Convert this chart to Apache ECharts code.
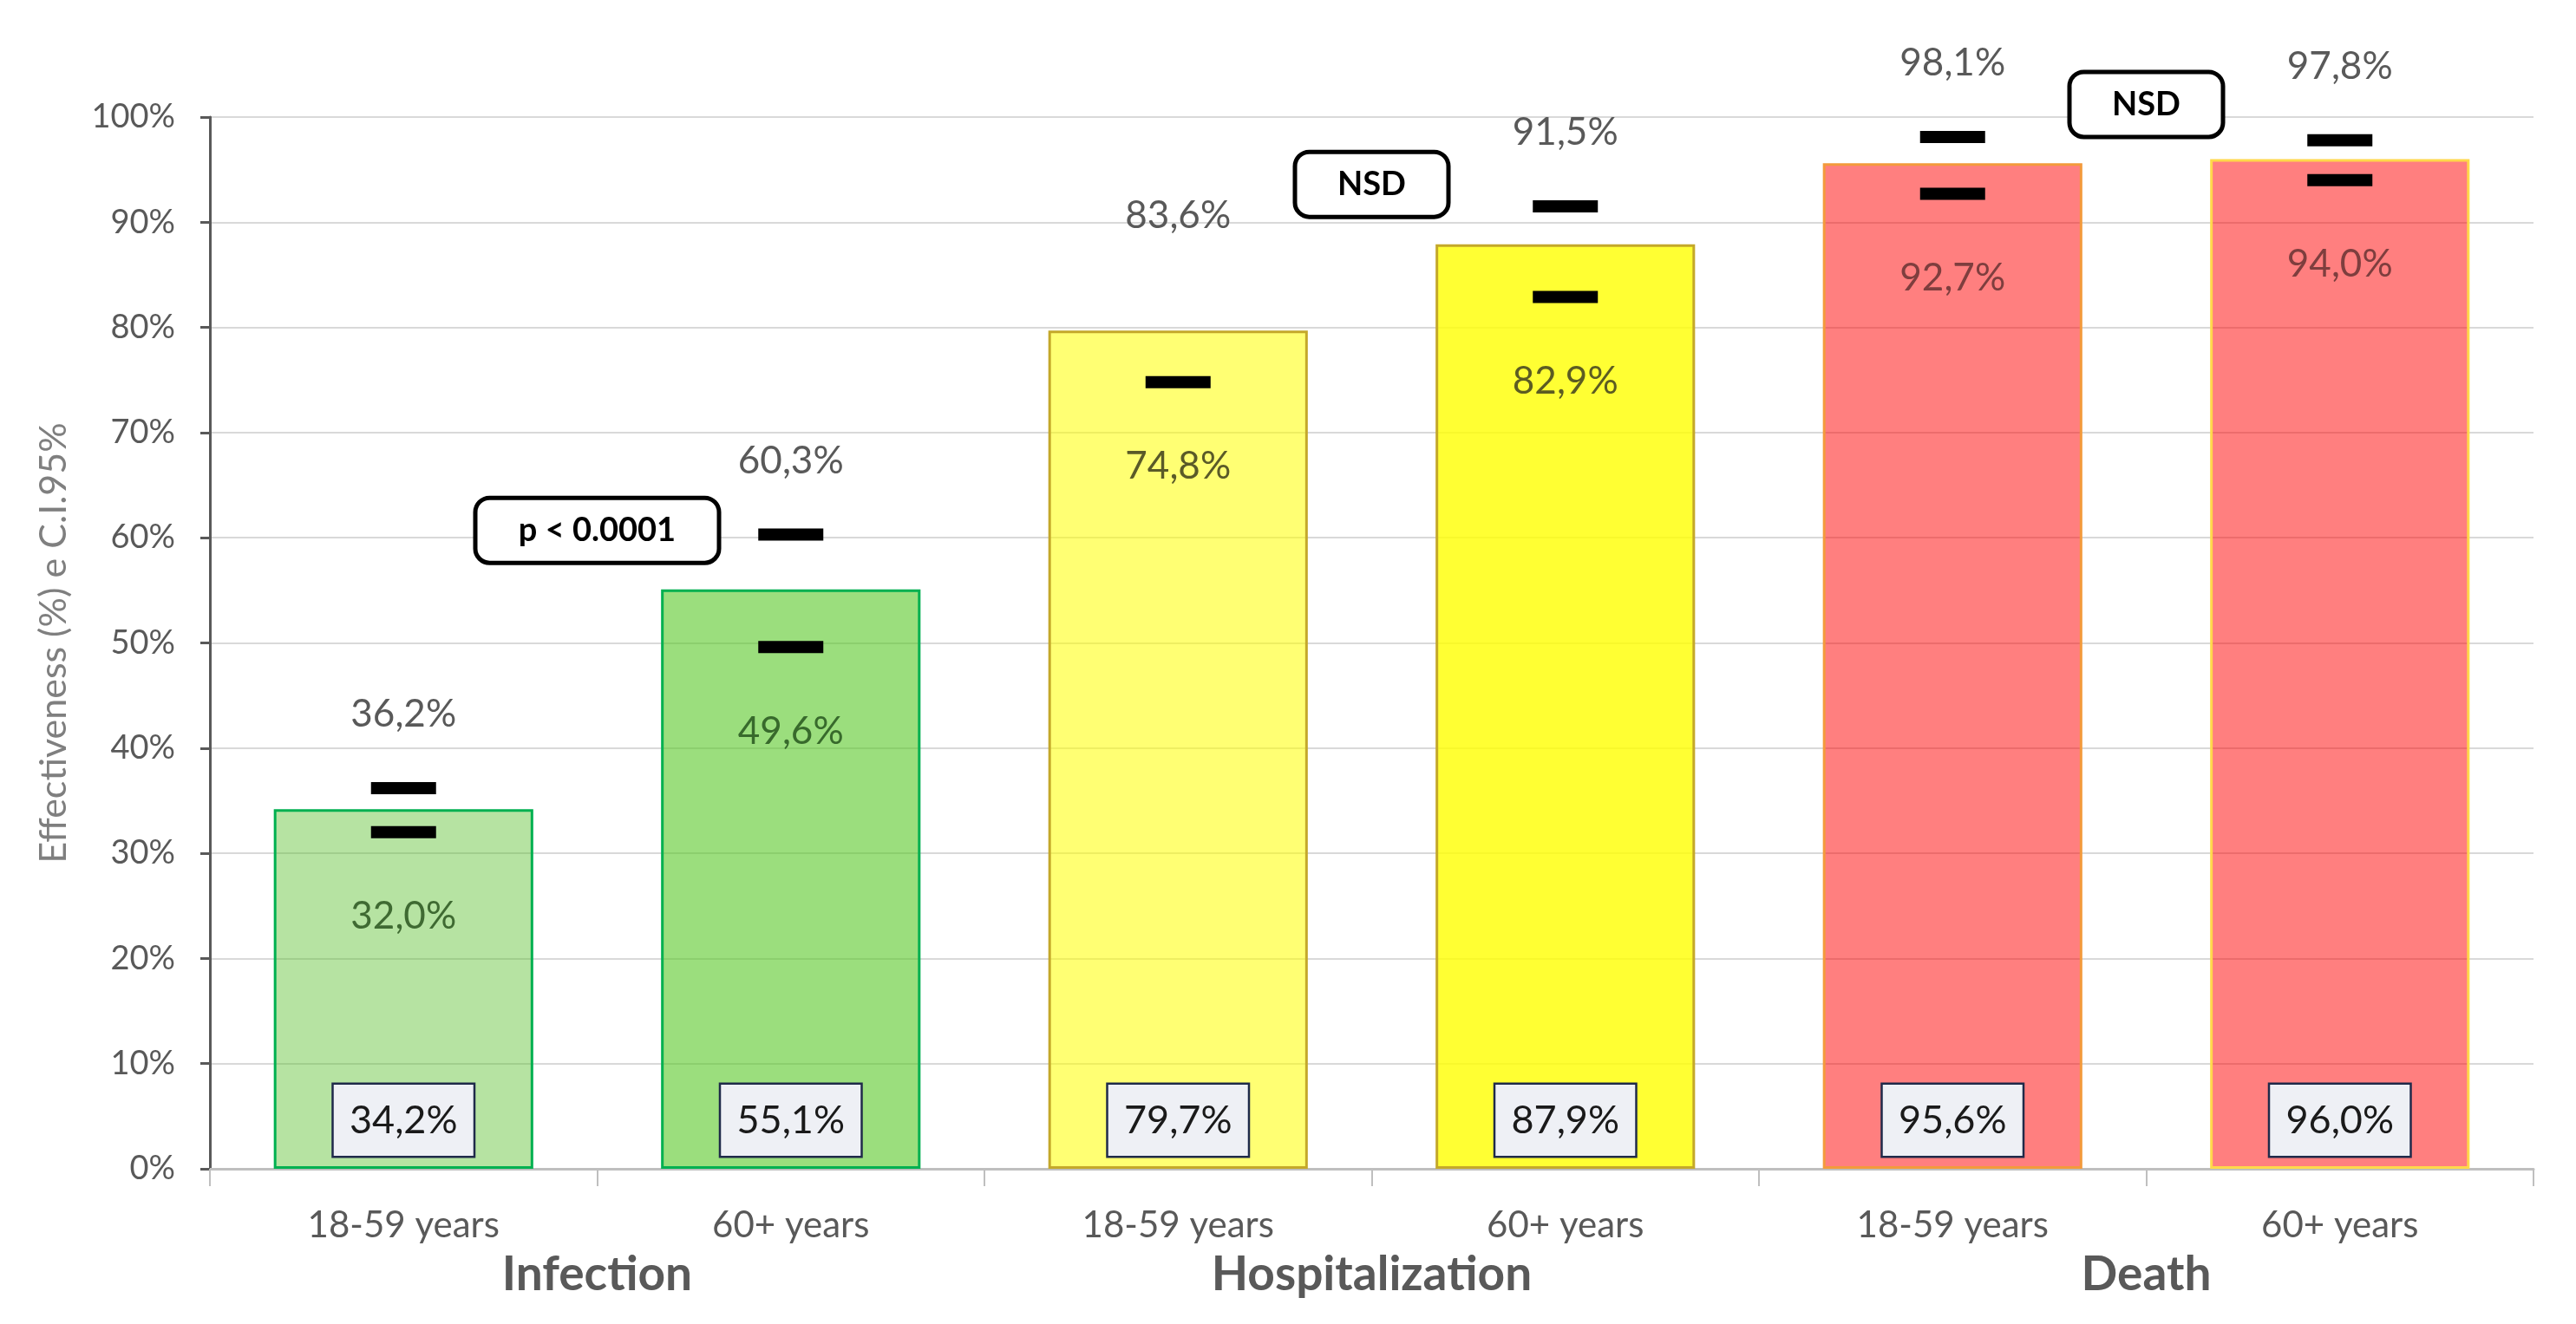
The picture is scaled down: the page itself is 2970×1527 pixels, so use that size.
<!DOCTYPE html>
<html>
<head>
<meta charset="utf-8">
<script src="https://cdn.jsdelivr.net/npm/echarts@6/dist/echarts.min.js"></script>
<style>
html,body{margin:0;padding:0;background:#fff;}
#chart{width:2970px;height:1527px;}
</style>
</head>
<body>
<div id="chart"></div>
<script>
// ---- data ----
const categories = ['18-59 years', '60+ years', '18-59 years', '60+ years', '18-59 years', '60+ years'];
const groups = ['Infection', 'Hospitalization', 'Death'];
const effectiveness = [34.2, 55.1, 79.7, 87.9, 95.6, 96.0];
const ciUpper = [36.2, 60.3, 83.6, 91.5, 98.1, 97.8];
const ciLower = [32.0, 49.6, 74.8, 82.9, 92.7, 94.0];
const annotationLabels = ['p < 0.0001', 'NSD', 'NSD'];
const annotationX = [1, 3, 5];          // category boundary (0..6 scale)
const annotationY = [60.7, 93.6, 101.2];

// ---- styles ----
const barFills = ['rgba(93,193,48,0.45)', 'rgba(88,200,38,0.6)', 'rgba(255,255,0,0.55)', 'rgba(255,255,0,0.8)', 'rgba(255,0,0,0.5)', 'rgba(255,0,0,0.5)'];
const barBorders = ['#00b050', '#00b050', '#c4a82a', '#c4a82a', '#f39a3c', '#ffd84a'];
const lowerLabelColors = ['#3f6a32', '#386a2c', '#5a5a28', '#5c5c22', '#7e3e3e', '#7e3e3e'];
const hiddenUpperMarker = [false, false, true, false, false, false];
const FONT = 'Lato';
const fmt = v => v.toFixed(1).replace('.', ',') + '%';

const chart = echarts.init(document.getElementById('chart'));
chart.setOption({
  backgroundColor: '#ffffff',
  animation: false,
  textStyle: { fontFamily: FONT },
  grid: { left: 242, right: 49, top: 135, bottom: 179, containLabel: false },
  xAxis: [
    {
      type: 'category', data: categories, position: 'bottom',
      axisLine: { lineStyle: { color: '#bfbfbf', width: 3 } },
      axisTick: { show: true, length: 20, lineStyle: { color: '#bfbfbf', width: 2 } },
      axisLabel: { color: '#595959', fontSize: 42, margin: 44, fontFamily: FONT },
      splitLine: { show: false }
    },
    {
      type: 'category', data: groups, position: 'bottom',
      axisLine: { show: false }, axisTick: { show: false },
      axisLabel: { color: '#595959', fontSize: 55, fontWeight: 'bold', margin: 95, fontFamily: FONT },
      splitLine: { show: false }
    },
    { type: 'value', min: 0, max: 6, show: false }
  ],
  yAxis: {
    type: 'value', min: 0, max: 100, interval: 10,
    name: 'Effectiveness (%) e C.I.95%', nameLocation: 'middle', nameGap: 158,
    nameTextStyle: { color: '#7f7f7f', fontSize: 43, fontFamily: FONT },
    axisLine: { show: true, lineStyle: { color: '#595959', width: 3 } },
    axisTick: { show: true, length: 11, lineStyle: { color: '#595959', width: 3 } },
    axisLabel: { formatter: '{value}%', color: '#595959', fontSize: 38, margin: 40, fontFamily: FONT },
    splitLine: { show: true, lineStyle: { color: '#d9d9d9', width: 2 } }
  },
  series: [
    {
      type: 'bar', xAxisIndex: 0, barCategoryGap: '33%',
      data: effectiveness.map((v, i) => ({
        value: v,
        itemStyle: { color: barFills[i], borderColor: barBorders[i], borderWidth: 3 }
      })),
      label: {
        show: true, position: 'insideBottom', distance: 15,
        formatter: p => fmt(p.value),
        color: '#1a1a1a', fontSize: 45, fontFamily: FONT,
        backgroundColor: '#eef0f5', borderColor: '#1f2a4a', borderWidth: 2.5,
        width: 125, height: 46, lineHeight: 46, align: 'center', padding: [18, 18]
      },
      z: 2
    },
    {
      type: 'scatter', xAxisIndex: 0, symbol: 'rect', symbolSize: [75, 14],
      itemStyle: { opacity: 1 },
      data: ciUpper.map((v, i) => ({
        value: v,
        itemStyle: { color: hiddenUpperMarker[i] ? 'rgba(0,0,0,0)' : '#000000', opacity: 1 }
      })),
      label: {
        show: true, position: 'top', distance: 56,
        formatter: p => fmt(p.value),
        color: '#595959', fontSize: 44, fontFamily: FONT
      },
      z: 5
    },
    {
      type: 'scatter', xAxisIndex: 0, symbol: 'rect', symbolSize: [75, 14],
      itemStyle: { opacity: 1 },
      data: ciLower.map((v, i) => ({
        value: v,
        itemStyle: { color: '#000000', opacity: 1 },
        label: { color: lowerLabelColors[i] }
      })),
      label: {
        show: true, position: 'bottom', distance: 68,
        formatter: p => fmt(p.value),
        fontSize: 44, fontFamily: FONT
      },
      z: 5
    },
    {
      type: 'scatter', xAxisIndex: 2, symbolSize: 0, clip: false,
      itemStyle: { opacity: 1 },
      data: annotationLabels.map((t, i) => ({
        value: [annotationX[i], annotationY[i]],
        name: t,
        label: { width: i === 0 ? 276 : 172 }
      })),
      label: {
        show: true, position: 'inside',
        formatter: p => p.name,
        color: '#000000', fontSize: 38, fontWeight: 'bold', fontFamily: FONT,
        backgroundColor: '#ffffff', borderColor: '#000000', borderWidth: 5, borderRadius: 14,
        height: 70, lineHeight: 70, align: 'center', padding: 0
      },
      z: 10
    }
  ]
});
</script>
</body>
</html>
